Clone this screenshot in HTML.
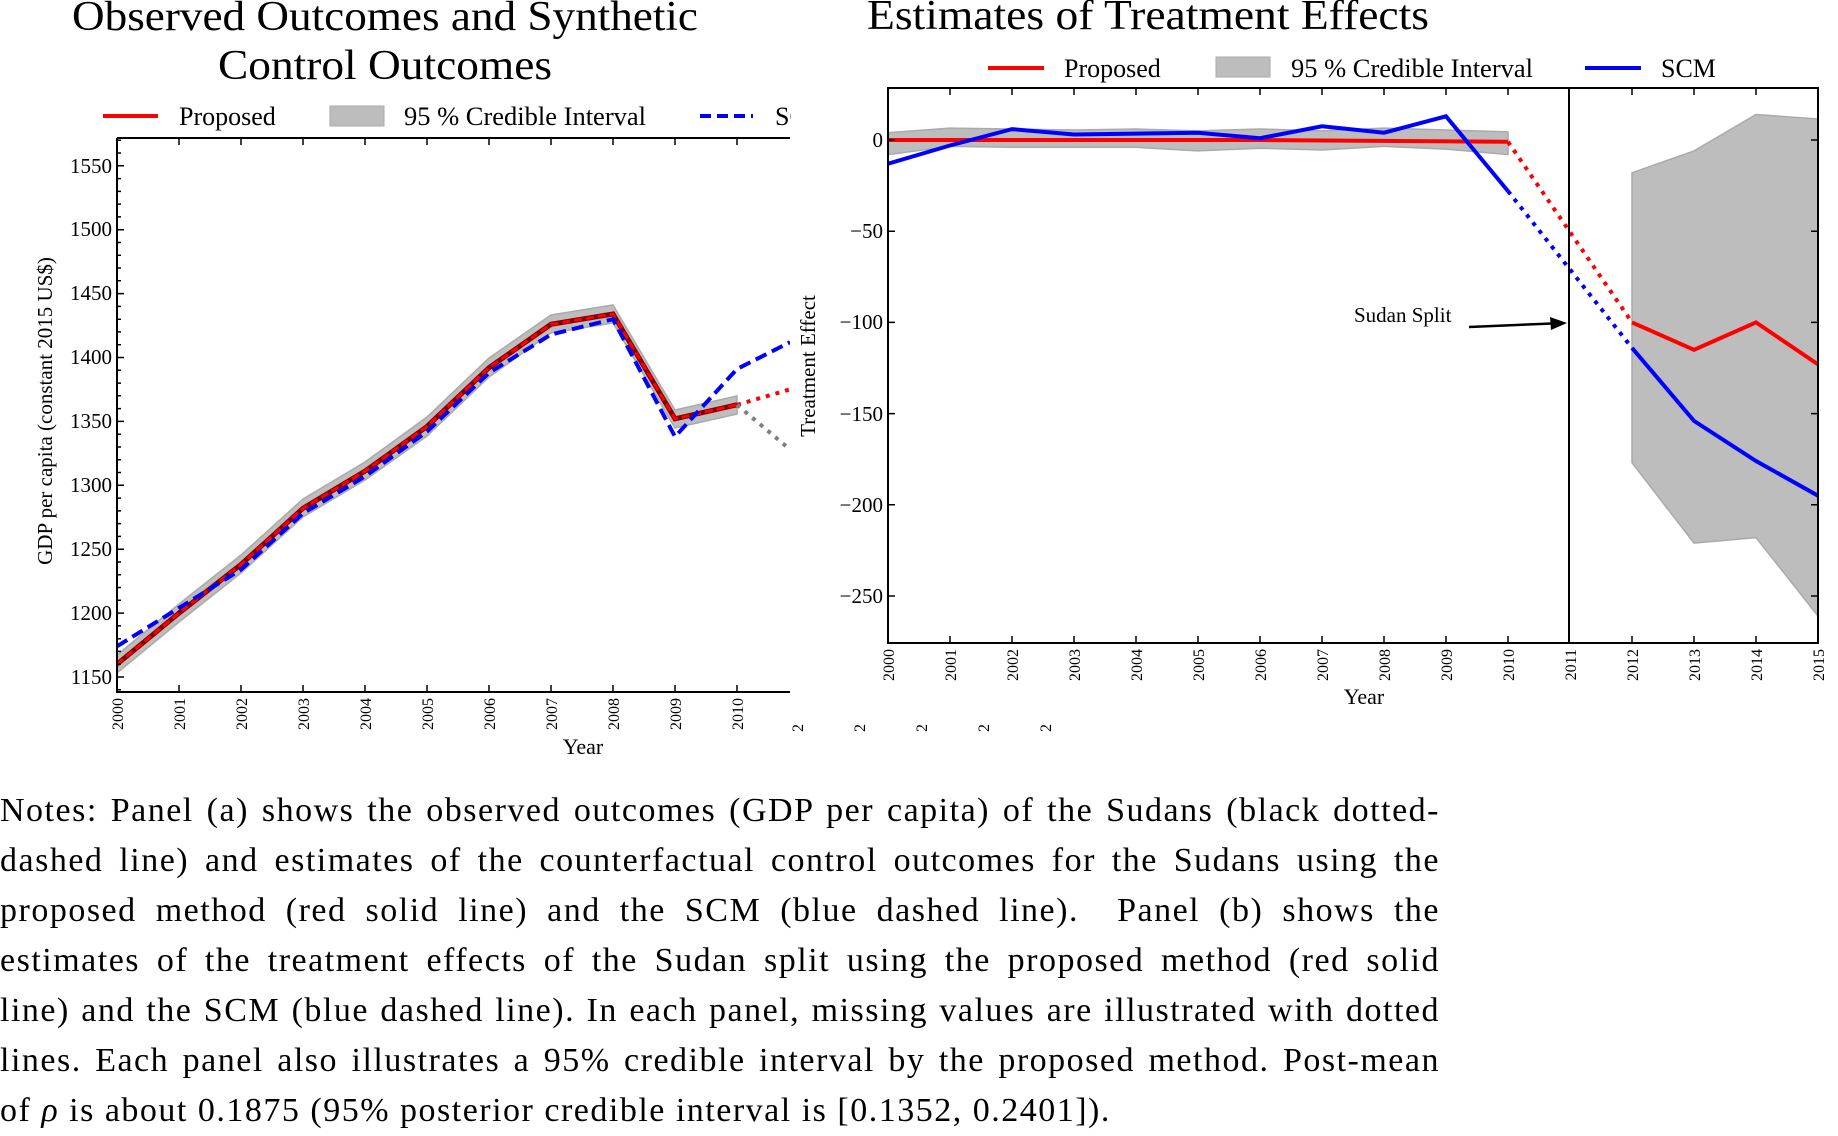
<!DOCTYPE html>
<html><head><meta charset="utf-8"><style>
html,body{margin:0;padding:0;background:#fff;}
body{position:relative;width:1838px;height:1125px;overflow:hidden;}
svg{display:block;font-family:"Liberation Serif",serif;}
text{font-family:"Liberation Serif",serif;}
.n{position:absolute;left:0;width:1440px;font-family:"Liberation Serif",serif;font-size:34px;letter-spacing:1.5px;line-height:50px;white-space:nowrap;text-align:justify;text-align-last:justify;color:#000;}
.n.last{text-align-last:left;}
</style></head><body>
<svg width="1838" height="1125" viewBox="0 0 1838 1125" xmlns="http://www.w3.org/2000/svg">
<defs>
<clipPath id="cl"><rect x="0" y="0" width="791" height="760"/></clipPath>
<clipPath id="cla"><rect x="117" y="138" width="673" height="554"/></clipPath>
<clipPath id="cra"><rect x="888" y="88" width="930" height="555"/></clipPath>
</defs>
<rect width="1838" height="1125" fill="#fff"/>

<g clip-path="url(#cl)">
<text x="385" y="30" font-size="42" text-anchor="middle" textLength="626" lengthAdjust="spacingAndGlyphs">Observed Outcomes and Synthetic</text>
<text x="385" y="79" font-size="42" text-anchor="middle" textLength="334" lengthAdjust="spacingAndGlyphs">Control Outcomes</text>
<line x1="103" y1="116" x2="158" y2="116" stroke="#f00" stroke-width="4"/>
<text x="179" y="125" font-size="26">Proposed</text>
<rect x="330" y="106" width="54" height="20" fill="#bdbdbd" stroke="#aaa"/>
<text x="404" y="125" font-size="26" textLength="242" lengthAdjust="spacingAndGlyphs">95 % Credible Interval</text>
<line x1="700" y1="116" x2="753" y2="116" stroke="#00f" stroke-width="4" stroke-dasharray="11,6"/>
<text x="775" y="125" font-size="26">SCM</text>

<g clip-path="url(#cla)">
<polygon fill="#bdbdbd" stroke="#aaa" stroke-width="1.5" points="117,655 179,604 241,555 303,499 365,462 427,417 489,358 551,315 613,305 675,410 737,396 737,414 675,428 613,323 551,333 489,377 427,436 365,480 303,517 241,573 179,622 117,673"/>
<polyline fill="none" stroke="#800000" stroke-width="5" points="117,664.2 179,613.1 241,564.5 303,508.3 365,471.2 427,426.5 489,367.7 551,324.3 613,314 675,418.8 737,404.8"/>
<polyline fill="none" stroke="#f00" stroke-width="3" stroke-dasharray="8,4" points="117,664.2 179,613.1 241,564.5 303,508.3 365,471.2 427,426.5 489,367.7 551,324.3 613,314 675,418.8 737,404.8"/>
<line x1="737" y1="404.8" x2="790" y2="389.4" stroke="#f00" stroke-width="4" stroke-dasharray="4,6"/>
<line x1="737" y1="404.8" x2="790" y2="449.5" stroke="#808080" stroke-width="4" stroke-dasharray="4,6"/>
<polyline fill="none" stroke="#00f" stroke-width="4" stroke-dasharray="12,6" points="117,646.3 179,608 241,569.6 303,513.4 365,476.4 427,431.6 489,372.8 551,334.5 613,319.2 675,436.7 737,369 790,342.2"/>
</g>
<path d="M117,138 V692 H790 M117,138 H790" fill="none" stroke="#000" stroke-width="2"/>
<g stroke="#000" stroke-width="1.5">
<path d="M117,677h7M117,613.1h7M117,549.2h7M117,485.3h7M117,421.4h7M117,357.5h7M117,293.6h7M117,229.7h7M117,165.8h7"/>
<path d="M117,689.8h4M117,664.2h4M117,651.4h4M117,638.7h4M117,625.9h4M117,600.3h4M117,587.5h4M117,574.8h4M117,562h4M117,536.4h4M117,523.6h4M117,510.9h4M117,498.1h4M117,472.5h4M117,459.7h4M117,447h4M117,434.2h4M117,408.6h4M117,395.8h4M117,383.1h4M117,370.3h4M117,344.7h4M117,331.9h4M117,319.2h4M117,306.4h4M117,280.8h4M117,268h4M117,255.3h4M117,242.5h4M117,216.9h4M117,204.1h4M117,191.4h4M117,178.6h4M117,153h4M117,140.2h4"/>
<path d="M179,692v-7M241,692v-7M303,692v-7M365,692v-7M427,692v-7M489,692v-7M551,692v-7M613,692v-7M675,692v-7M737,692v-7"/>
<path d="M179,138v7M241,138v7M303,138v7M365,138v7M427,138v7M489,138v7M551,138v7M613,138v7M675,138v7M737,138v7"/>
</g>
<g font-size="21" text-anchor="end">
<text x="112" y="684">1150</text><text x="112" y="620">1200</text><text x="112" y="556">1250</text><text x="112" y="492">1300</text><text x="112" y="428">1350</text><text x="112" y="364">1400</text><text x="112" y="300">1450</text><text x="112" y="236">1500</text><text x="112" y="173">1550</text>
</g>
<g font-size="16" text-anchor="end">
<text transform="translate(123,698) rotate(-90)">2000</text>
<text transform="translate(185,698) rotate(-90)">2001</text>
<text transform="translate(247,698) rotate(-90)">2002</text>
<text transform="translate(309,698) rotate(-90)">2003</text>
<text transform="translate(371,698) rotate(-90)">2004</text>
<text transform="translate(433,698) rotate(-90)">2005</text>
<text transform="translate(495,698) rotate(-90)">2006</text>
<text transform="translate(557,698) rotate(-90)">2007</text>
<text transform="translate(619,698) rotate(-90)">2008</text>
<text transform="translate(681,698) rotate(-90)">2009</text>
<text transform="translate(743,698) rotate(-90)">2010</text>
</g>
<text x="583" y="754" font-size="22" text-anchor="middle">Year</text>
<text transform="translate(52,411) rotate(-90)" font-size="21" text-anchor="middle">GDP per capita (constant 2015 US$)</text>
</g>
<g font-size="16">
<text transform="translate(803,732) rotate(-90)">2</text>
<text transform="translate(865,732) rotate(-90)">2</text>
<text transform="translate(927,732) rotate(-90)">2</text>
<text transform="translate(989,732) rotate(-90)">2</text>
<text transform="translate(1051,732) rotate(-90)">2</text>
</g>

<text x="867" y="29" font-size="42" textLength="562" lengthAdjust="spacingAndGlyphs">Estimates of Treatment Effects</text>
<line x1="988" y1="68" x2="1044" y2="68" stroke="#f00" stroke-width="4"/>
<text x="1064" y="77" font-size="26">Proposed</text>
<rect x="1216" y="57" width="54" height="20" fill="#bdbdbd" stroke="#aaa"/>
<text x="1291" y="77" font-size="26" textLength="242" lengthAdjust="spacingAndGlyphs">95 % Credible Interval</text>
<line x1="1585" y1="68" x2="1641" y2="68" stroke="#00f" stroke-width="4"/>
<text x="1661" y="77" font-size="26">SCM</text>

<g clip-path="url(#cra)">
<polygon fill="#bdbdbd" stroke="#aaa" stroke-width="1.5" points="888,132.7 950,128.1 1012,129 1074,130 1136,129 1198,130.9 1260,129 1322,130.9 1384,128.1 1446,130 1508,131.8 1508,154.6 1446,149.1 1384,146.4 1322,150 1260,148.2 1198,150.9 1136,147.3 1074,147.3 1012,147.3 950,146.4 888,154.6"/>
<polygon fill="#bdbdbd" stroke="#aaa" stroke-width="1.5" points="1632,172.8 1694,150.9 1756,114.5 1818,119 1818,616 1756,537.6 1694,543.1 1632,462.8"/>
<polyline fill="none" stroke="#f00" stroke-width="4" points="888,140 1012,140 1260,140 1508,141.8"/>
<line x1="1508" y1="141.8" x2="1632" y2="322.4" stroke="#f00" stroke-width="4" stroke-dasharray="4,6"/>
<polyline fill="none" stroke="#f00" stroke-width="4" points="1632,322.4 1694,349.8 1756,322.4 1818,364.4"/>
<polyline fill="none" stroke="#00f" stroke-width="4" points="888,163.7 950,145.5 1012,129.1 1074,134.5 1136,133.6 1198,132.7 1260,138.2 1322,126.3 1384,132.7 1446,116.3 1508,191.1"/>
<line x1="1508" y1="191.1" x2="1632" y2="347.9" stroke="#00f" stroke-width="4" stroke-dasharray="4,6"/>
<polyline fill="none" stroke="#00f" stroke-width="4" points="1632,347.9 1694,420.9 1756,461 1818,495.7"/>
</g>
<line x1="1569" y1="88" x2="1569" y2="643" stroke="#000" stroke-width="2"/>
<rect x="888" y="88" width="930" height="555" fill="none" stroke="#000" stroke-width="2"/>
<g stroke="#000" stroke-width="1.5">
<path d="M888,140h7M888,231.2h7M888,322.4h7M888,413.6h7M888,504.8h7M888,596h7M1818,140h-7M1818,231.2h-7M1818,322.4h-7M1818,413.6h-7M1818,504.8h-7M1818,596h-7"/>
<path d="M950,643v-7M1012,643v-7M1074,643v-7M1136,643v-7M1198,643v-7M1260,643v-7M1322,643v-7M1384,643v-7M1446,643v-7M1508,643v-7M1632,643v-7M1694,643v-7M1756,643v-7"/>
<path d="M950,88v7M1012,88v7M1074,88v7M1136,88v7M1198,88v7M1260,88v7M1322,88v7M1384,88v7M1446,88v7M1508,88v7M1632,88v7M1694,88v7M1756,88v7"/>
</g>
<g font-size="21" text-anchor="end">
<text x="883" y="147">0</text><text x="883" y="238">−50</text><text x="883" y="329">−100</text><text x="883" y="421">−150</text><text x="883" y="512">−200</text><text x="883" y="603">−250</text>
</g>
<g font-size="16" text-anchor="end">
<text transform="translate(894,649) rotate(-90)">2000</text>
<text transform="translate(956,649) rotate(-90)">2001</text>
<text transform="translate(1018,649) rotate(-90)">2002</text>
<text transform="translate(1080,649) rotate(-90)">2003</text>
<text transform="translate(1142,649) rotate(-90)">2004</text>
<text transform="translate(1204,649) rotate(-90)">2005</text>
<text transform="translate(1266,649) rotate(-90)">2006</text>
<text transform="translate(1328,649) rotate(-90)">2007</text>
<text transform="translate(1390,649) rotate(-90)">2008</text>
<text transform="translate(1452,649) rotate(-90)">2009</text>
<text transform="translate(1514,649) rotate(-90)">2010</text>
<text transform="translate(1576,649) rotate(-90)">2011</text>
<text transform="translate(1638,649) rotate(-90)">2012</text>
<text transform="translate(1700,649) rotate(-90)">2013</text>
<text transform="translate(1762,649) rotate(-90)">2014</text>
<text transform="translate(1824,649) rotate(-90)">2015</text>
</g>
<text x="1364" y="704" font-size="22" text-anchor="middle">Year</text>
<text transform="translate(815,366) rotate(-90)" font-size="21" text-anchor="middle">Treatment Effect</text>
<text x="1354" y="322" font-size="21">Sudan Split</text>
<line x1="1469" y1="327" x2="1552" y2="323.5" stroke="#000" stroke-width="2.5"/>
<polygon points="1567,323 1550,317 1551,330" fill="#000"/>
</svg>

<div class="n" style="top:786px">Notes: Panel (a) shows the observed outcomes (GDP per capita) of the Sudans (black dotted-</div>
<div class="n" style="top:836px">dashed line) and estimates of the counterfactual control outcomes for the Sudans using the</div>
<div class="n" style="top:886px">proposed method (red solid line) and the SCM (blue dashed line).&nbsp; Panel (b) shows the</div>
<div class="n" style="top:936px">estimates of the treatment effects of the Sudan split using the proposed method (red solid</div>
<div class="n" style="top:986px">line) and the SCM (blue dashed line). In each panel, missing values are illustrated with dotted</div>
<div class="n" style="top:1036px">lines. Each panel also illustrates a 95% credible interval by the proposed method. Post-mean</div>
<div class="n last" style="top:1086px;width:auto">of <i>ρ</i> is about 0.1875 (95% posterior credible interval is [0.1352, 0.2401]).</div>
</body></html>
